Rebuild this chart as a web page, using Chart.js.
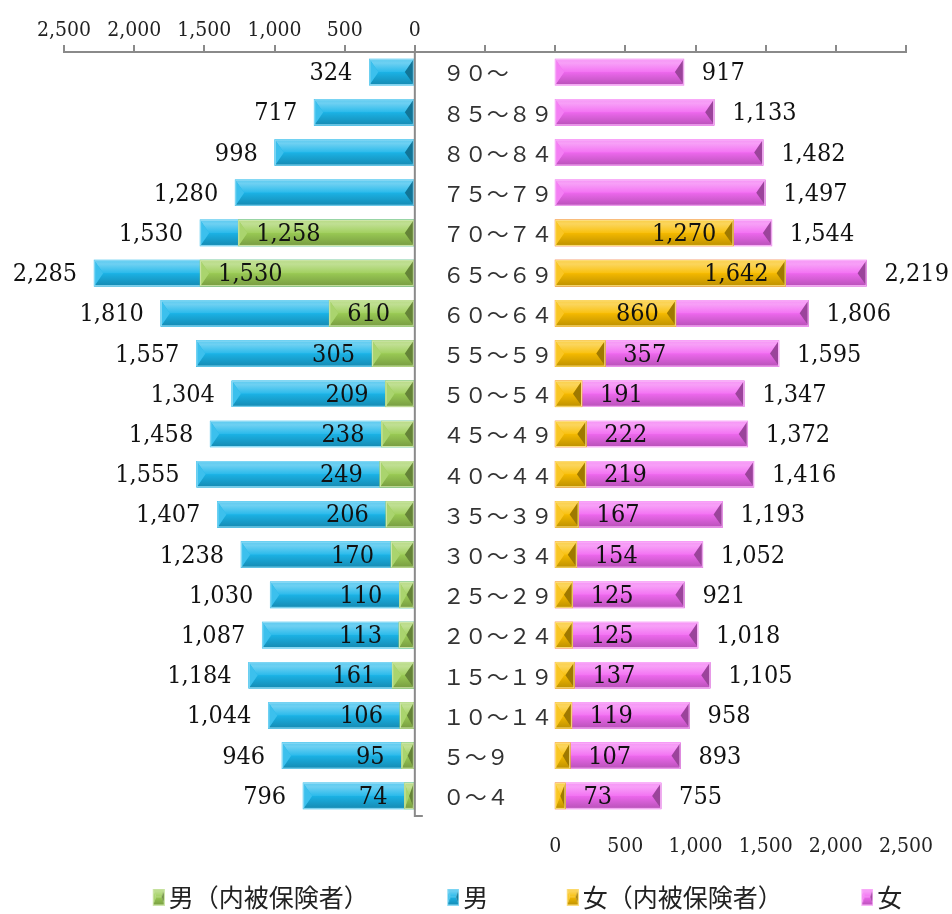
<!DOCTYPE html>
<html lang="ja">
<head>
<meta charset="utf-8">
<script src="https://cdn.jsdelivr.net/npm/chart.js@4.4.1/dist/chart.umd.min.js"></script>
<style>
  html, body { margin: 0; padding: 0; background: #ffffff; }
  #pyramid { display: block; }
</style>
</head>
<body>
<canvas id="pyramid" width="952" height="914"></canvas>
<script>
// ---- data ----
const ageGroups = ['９０～', '８５～８９', '８０～８４', '７５～７９', '７０～７４', '６５～６９',
  '６０～６４', '５５～５９', '５０～５４', '４５～４９', '４０～４４', '３５～３９', '３０～３４',
  '２５～２９', '２０～２４', '１５～１９', '１０～１４', '５～９', '０～４'];
const menTotal = [324, 717, 998, 1280, 1530, 2285, 1810, 1557, 1304, 1458, 1555, 1407, 1238,
  1030, 1087, 1184, 1044, 946, 796];
const menInsured = [null, null, null, null, 1258, 1530, 610, 305, 209, 238, 249, 206, 170,
  110, 113, 161, 106, 95, 74];
const womenTotal = [917, 1133, 1482, 1497, 1544, 2219, 1806, 1595, 1347, 1372, 1416, 1193, 1052,
  921, 1018, 1105, 958, 893, 755];
const womenInsured = [null, null, null, null, 1270, 1642, 860, 357, 191, 222, 219, 167, 154,
  125, 125, 137, 119, 107, 73];
const seriesNames = ['男（内被保険者）', '男', '女（内被保険者）', '女'];
const axisTicks = [0, 500, 1000, 1500, 2000, 2500];

// ---- styling ----
const seriesColors = ['#9ccd56', '#1cb6ea', '#f9bd00', '#f26af2'];
const NUM_FONT = "'DejaVu Serif Condensed', 'DejaVu Serif', serif";
const CJK_FONT = "'Noto Sans CJK JP', 'Noto Sans', sans-serif";
const AXIS_GREY = '#8a8a8a';
const TEXT = '#111111';
const LEGEND_SLOT = 76;      // legend box slot width (spacing between entries)
const LEGEND_FONT = 25;
const LEGEND_SQ = 12;        // visible legend square width
const LEGEND_GAP = 4;        // gap between square and text
const fmt = v => v.toLocaleString('en-US');

Chart.defaults.font.family = NUM_FONT;
Chart.defaults.color = '#222';

function mix(hex, t) {
  const n = parseInt(hex.slice(1), 16);
  let r = n >> 16, g = (n >> 8) & 255, b = n & 255;
  const target = t > 0 ? 255 : 0, k = Math.abs(t);
  r = Math.round(r + (target - r) * k);
  g = Math.round(g + (target - g) * k);
  b = Math.round(b + (target - b) * k);
  return `rgb(${r},${g},${b})`;
}

// angled bevel: four faces meeting at the bar's mid-line
function drawBevel(ctx, l, t, r, b, base, bevel) {
  const w = r - l, h = b - t;
  if (!(w > 0)) return;
  const s = Math.min(bevel, w / 2);
  const m = t + h / 2;
  let g = ctx.createLinearGradient(0, t, 0, m);
  g.addColorStop(0, mix(base, 0.28));
  g.addColorStop(0.3, mix(base, 0.36));
  g.addColorStop(1, mix(base, 0.06));
  ctx.fillStyle = g;
  ctx.beginPath();
  ctx.moveTo(l, t); ctx.lineTo(r, t); ctx.lineTo(r - s, m); ctx.lineTo(l + s, m);
  ctx.closePath(); ctx.fill();

  g = ctx.createLinearGradient(0, m, 0, b);
  g.addColorStop(0, mix(base, -0.02));
  g.addColorStop(1, mix(base, -0.24));
  ctx.fillStyle = g;
  ctx.beginPath();
  ctx.moveTo(l + s, m); ctx.lineTo(r - s, m); ctx.lineTo(r, b); ctx.lineTo(l, b);
  ctx.closePath(); ctx.fill();

  ctx.fillStyle = mix(base, 0.14);
  ctx.beginPath();
  ctx.moveTo(l, t); ctx.lineTo(l + s, m); ctx.lineTo(l, b);
  ctx.closePath(); ctx.fill();

  ctx.fillStyle = mix(base, -0.36);
  ctx.beginPath();
  ctx.moveTo(r, t); ctx.lineTo(r - s, m); ctx.lineTo(r, b);
  ctx.closePath(); ctx.fill();

  ctx.strokeStyle = mix(base, 0.5);
  ctx.lineWidth = 1;
  ctx.strokeRect(l + 0.5, t + 0.5, Math.max(w - 1, 0), h - 1);
}

// legend icons: a small bevelled square sitting at the right end of the slot
const ICON_W = LEGEND_SLOT + LEGEND_FONT - 2 * LEGEND_GAP;
const legendIcons = seriesColors.map(c => {
  const cv = document.createElement('canvas');
  cv.width = ICON_W; cv.height = 17;
  drawBevel(cv.getContext('2d'), ICON_W - LEGEND_SQ, 0, ICON_W, 17, c, 3);
  return cv;
});

const bevelBars = {
  id: 'bevelBars',
  afterDatasetDraw(chart, args) {
    const { ctx, chartArea } = chart;
    const values = chart.data.datasets[args.index].data;
    const base = seriesColors[args.index];
    ctx.save();
    ctx.beginPath();
    ctx.rect(chartArea.left, chartArea.top, chartArea.right - chartArea.left, chartArea.bottom - chartArea.top);
    ctx.clip();
    args.meta.data.forEach((bar, i) => {
      if (values[i] == null) return;
      const p = bar.getProps(['x', 'y', 'base', 'height'], true);
      const l = Math.min(p.x, p.base), r = Math.max(p.x, p.base);
      drawBevel(ctx, l, p.y - p.height / 2, r, p.y + p.height / 2, base, 9);
    });
    ctx.restore();
  }
};

const pyramidDecor = {
  id: 'pyramidDecor',
  afterLayout(chart) {
    // place the legend row a little right of centre and lower
    const lg = chart.legend;
    if (!lg || !lg.lineWidths) return;
    const P = lg.options.labels.padding;
    const lineW = lg.lineWidths[0];
    const curX = (lg.left + P + lg.right - lineW) / 2;
    const visStart = LEGEND_SLOT + LEGEND_FONT / 2 - LEGEND_GAP - LEGEND_SQ;
    const visW = lineW - P - visStart;
    const wantX = 527.5 - visW / 2 - visStart;
    const dx = wantX - curX;
    lg.left += dx; lg.right += dx;
    lg.top += 5.5; lg.bottom += 5.5;
  },
  afterDatasetsDraw(chart) {
    const { ctx, chartArea, scales } = chart;
    const x0 = scales.x.getPixelForValue(0);
    ctx.save();

    // centre axis line with its end tick
    ctx.strokeStyle = AXIS_GREY;
    ctx.lineWidth = 2;
    ctx.beginPath();
    ctx.moveTo(x0, chartArea.top);
    ctx.lineTo(x0, chartArea.bottom);
    ctx.lineTo(x0 + 8, chartArea.bottom);
    ctx.stroke();

    // age-group labels between the two halves
    ctx.font = `22px ${CJK_FONT}`;
    ctx.fillStyle = '#333';
    ctx.textAlign = 'left';
    ctx.textBaseline = 'middle';
    ageGroups.forEach((g, i) => {
      ctx.fillText(g, x0 + 28, scales.y.getPixelForValue(i) + 1);
    });

    // value labels
    ctx.font = `25px ${NUM_FONT}`;
    ctx.fillStyle = TEXT;
    const put = (text, x, y, align) => { ctx.textAlign = align; ctx.fillText(text, x, y + 1.5); };
    chart.data.datasets.forEach((ds, d) => {
      const meta = chart.getDatasetMeta(d);
      const isMen = d < 2;
      const isTotal = d === 1 || d === 3;
      ds.data.forEach((v, i) => {
        if (v == null) return;
        const bar = meta.data[i];
        const text = fmt(v);
        const tw = ctx.measureText(text).width;
        const len = Math.abs(bar.x - bar.base);
        const inside = !isTotal && len >= tw + 34;
        if (isMen) {
          if (inside) put(text, bar.x + 18, bar.y, 'left');
          else put(text, bar.x - 17, bar.y, 'right');
        } else {
          if (inside) put(text, bar.x - 17, bar.y, 'right');
          else put(text, Math.min(bar.x + 18, chart.width - 2 - tw), bar.y, 'left');
        }
      });
    });
    ctx.restore();
  }
};

const tickText = v => (axisTicks.includes(v) ? fmt(v) : '');

new Chart(document.getElementById('pyramid'), {
  type: 'bar',
  data: {
    labels: ageGroups,
    datasets: [
      { label: seriesNames[0], data: menInsured, xAxisID: 'x', backgroundColor: seriesColors[0] },
      { label: seriesNames[1], data: menTotal, xAxisID: 'x', backgroundColor: seriesColors[1] },
      { label: seriesNames[2], data: womenInsured, xAxisID: 'x2', backgroundColor: seriesColors[2] },
      { label: seriesNames[3], data: womenTotal, xAxisID: 'x2', backgroundColor: seriesColors[3] }
    ]
  },
  options: {
    indexAxis: 'y',
    responsive: false,
    animation: false,
    devicePixelRatio: 1,
    events: [],
    layout: { padding: { left: 64, right: 46, top: 0, bottom: 0 } },
    datasets: { bar: { grouped: false, barThickness: 26, borderWidth: 0 } },
    scales: {
      x: {
        type: 'linear', position: 'top', reverse: true, min: -3500, max: 2500,
        afterFit: s => { s.height = 52; },
        grid: { drawOnChartArea: false, drawTicks: true, tickLength: 7, color: AXIS_GREY, lineWidth: 2 },
        border: { display: true, color: AXIS_GREY, width: 2 },
        ticks: { stepSize: 500, autoSkip: false, maxRotation: 0, padding: 2, color: '#222',
          font: { size: 21 }, callback: tickText }
      },
      x2: {
        type: 'linear', position: 'bottom', min: -3500, max: 2500,
        afterFit: s => { s.height = 57; },
        grid: { display: false, drawTicks: false },
        border: { display: false },
        ticks: { stepSize: 500, autoSkip: false, maxRotation: 0, padding: 18, color: '#222',
          font: { size: 21 }, callback: tickText }
      },
      y: { type: 'category', display: false }
    },
    plugins: {
      tooltip: { enabled: false },
      legend: {
        position: 'bottom',
        labels: {
          usePointStyle: true,
          pointStyleWidth: LEGEND_SLOT,
          padding: 6,
          color: '#222',
          font: { family: CJK_FONT, size: LEGEND_FONT },
          generateLabels(chart) {
            const items = Chart.defaults.plugins.legend.labels.generateLabels(chart);
            items.forEach(it => { it.pointStyle = legendIcons[it.datasetIndex]; });
            return items;
          }
        }
      }
    }
  },
  plugins: [bevelBars, pyramidDecor]
});
</script>
</body>
</html>
